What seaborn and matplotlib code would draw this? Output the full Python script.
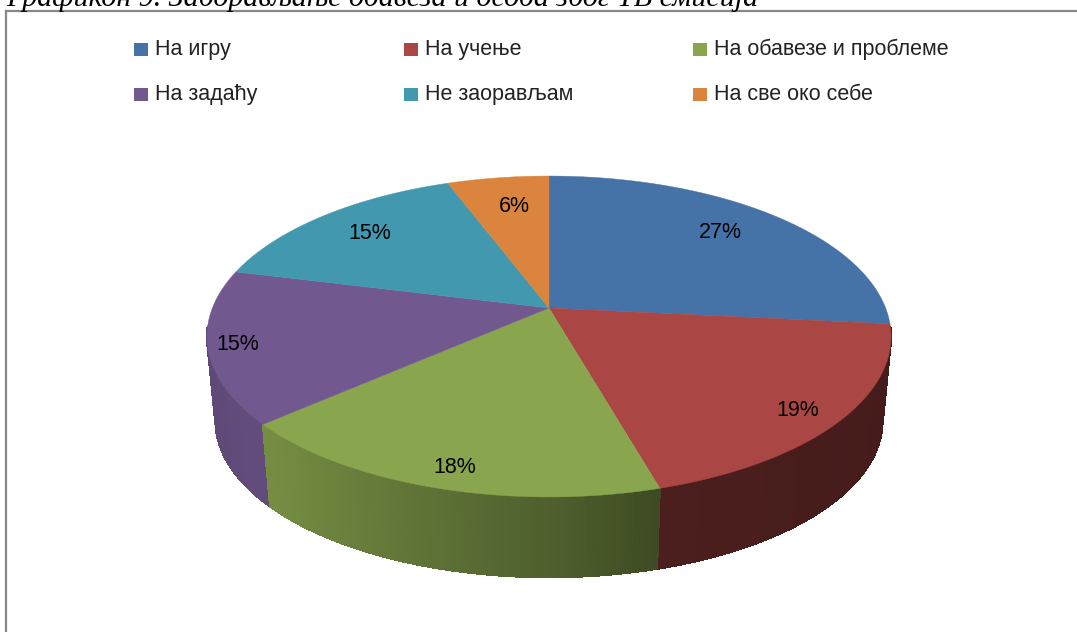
import numpy as np
import seaborn as sns
from matplotlib import pyplot as plt
from matplotlib.patches import Rectangle

title = 'Графикон 9. Заборављање обавеза и особа због ТВ емисија'
categories = ['На игру', 'На учење', 'На обавезе и проблеме',
              'На задаћу', 'Не заорављам', 'На све око себе']
# the labels round these
shares = [26.6, 19.0, 17.9, 15.4, 15.4, 5.7]
colors = ['#4572A7', '#AA4643', '#89A54E', '#71588F', '#4198AF', '#DB843D']

W, H = 1077, 632
CX, CY = 549, 308
RX, RY = 336.6, 155.4
TILT = 0.1776
DEPTH = 85
BOTTOM_SCALE = 0.975

sns.set_theme(style='white')
plt.rcParams['font.family'] = ['Liberation Sans', 'DejaVu Sans']
palette = sns.color_palette(colors)


def project(theta, radius=1.0, scale=1.0, drop=0):
    x = radius * np.sin(theta)
    y = radius * np.cos(theta)
    w = 1 + TILT * y
    return CX + scale * RX * x / w, CY + drop - scale * RY * y / w


def wall_shade(theta):
    return np.interp(np.sin(theta), [-1, -0.77, 0, 0.3, 1], [0.82, 0.87, 0.58, 0.44, 0.40])


fig = plt.figure(figsize=(W / 100, H / 100), dpi=100)
ax = fig.add_axes([6 / W, 0, 1 - 6 / W, 1 - 11 / H])
ax.set_xlim(6, W)
ax.set_ylim(H, 11)
ax.set_xticks([])
ax.set_yticks([])
sns.despine(ax=ax, top=False, right=True, left=False, bottom=True)
for side in ['top', 'left']:
    ax.spines[side].set_color('#888888')
    ax.spines[side].set_linewidth(1.6)

fractions = np.cumsum([0] + shares) / sum(shares)
starts = 2 * np.pi * fractions[:-1]
ends = 2 * np.pi * fractions[1:]

# side wall, only the part facing the viewer
strips = []
for i in range(len(shares)):
    steps = int(np.ceil(np.degrees(ends[i] - starts[i])))
    edges = np.linspace(starts[i], ends[i], steps + 1)
    for a, b in zip(edges[:-1], edges[1:]):
        if np.cos((a + b) / 2) < -0.12:
            strips.append((a, b, i))
strips.sort(key=lambda s: -np.cos((s[0] + s[1]) / 2))
for a, b, i in strips:
    t = np.array([a, b])
    tx, ty = project(t)
    bx, by = project(t[::-1], scale=BOTTOM_SCALE, drop=DEPTH)
    shade = wall_shade((a + b) / 2)
    c = tuple(v * shade for v in palette[i])
    ax.fill(np.r_[tx, bx], np.r_[ty, by], color=c, lw=0.8, antialiased=False)

# top face
for i in range(len(shares)):
    t = np.linspace(starts[i], ends[i], 120)
    x, y = project(t)
    ax.fill(np.r_[CX, x], np.r_[CY, y], color=palette[i], lw=0.3)

# percent labels
label_radius = [0.70, 0.88, 0.9, 0.91, 0.78, 0.78]
label_dx = [10, -4, 7, -2, 0, 7]
label_dy = [-11, 2, -1, -1, -3, 1]
for i, share in enumerate(shares):
    lx, ly = project((starts[i] + ends[i]) / 2, radius=label_radius[i])
    ax.text(lx + label_dx[i], ly + label_dy[i], f'{round(share)}%', ha='center',
            va='center_baseline', fontsize=15.5, color='black')

# legend, three columns by two rows
legend_x = [134, 404, 693]
legend_y = [49, 94]
for i, name in enumerate(categories):
    sx = legend_x[i % 3]
    sy = legend_y[i // 3]
    ax.add_patch(Rectangle((sx, sy - 6.5), 14, 13, color=palette[i], lw=0))
    ax.text(sx + 21, sy - 2, name, ha='left', va='center_baseline', fontsize=15.5, color='#222222')

fig.text(6 / W, 1 - 5.5 / H, title, family=['Liberation Serif'], style='italic',
         fontsize=21.6, color='black', ha='left', va='baseline')

fig.savefig('out.png', dpi=100, facecolor='white')
